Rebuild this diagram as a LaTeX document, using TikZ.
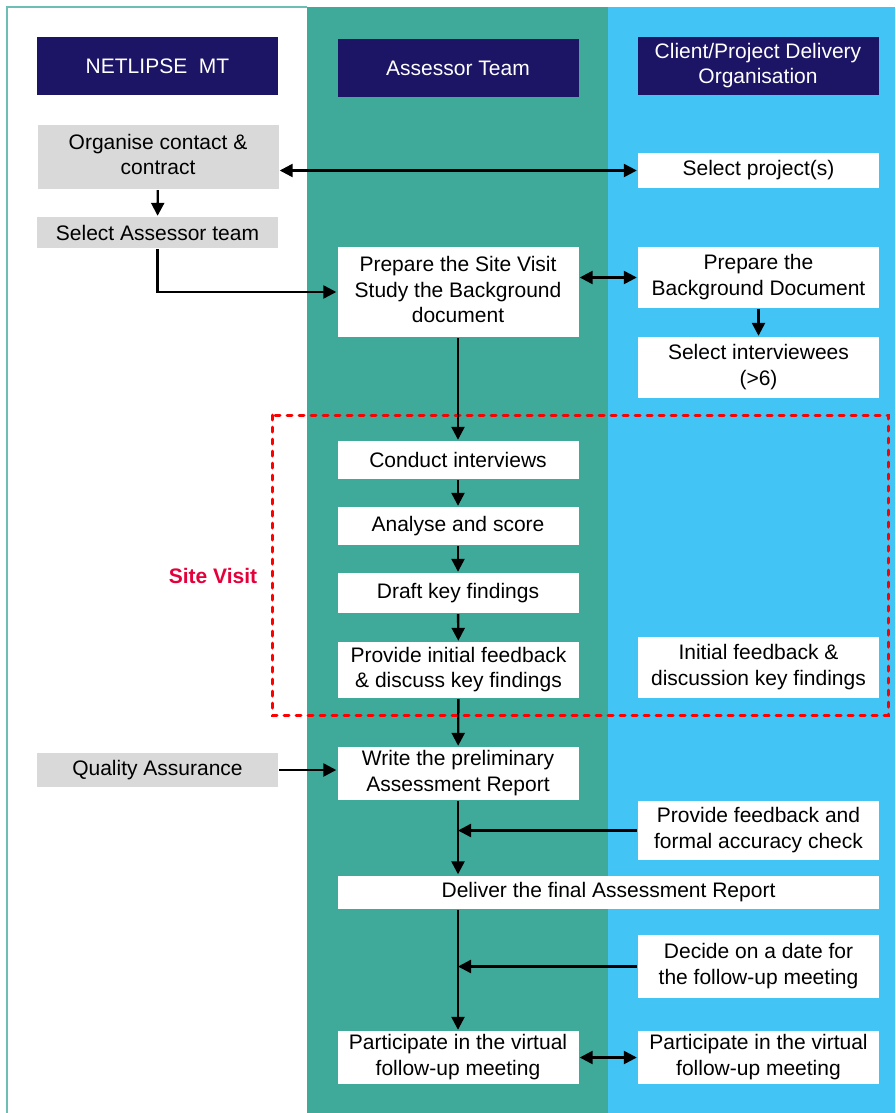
\documentclass[tikz,border=0pt]{standalone}
\usepackage{fontspec}
\setmainfont{Liberation Sans}
\usepackage{tikz}
\usetikzlibrary{arrows.meta}

\definecolor{navy}{HTML}{1C1464}
\definecolor{lanegreen}{HTML}{3FA99A}
\definecolor{laneblue}{HTML}{42C4F4}
\definecolor{boxgrey}{HTML}{D9D9D9}
\definecolor{sitered}{HTML}{E4003B}

\begin{document}
\begin{tikzpicture}[x=1pt, y=-1pt, line width=2.4pt,
  every node/.style={inner sep=0pt, font=\fontsize{21}{25.5}\selectfont},
  header/.style={fill=navy, text=white, minimum width=241pt, minimum height=58pt},
  greybox/.style={fill=boxgrey, minimum width=241pt},
  whitebox/.style={fill=white, minimum width=241pt},
  >={Triangle[length=13pt,width=13pt]}]

\useasboundingbox (0,0) rectangle (895,1113);

% lanes
\fill[white] (7,7) rectangle (307,1120);
\draw[lanegreen!75!white, line width=1.2pt] (7,1120) -- (7,7) -- (307,7);
\fill[lanegreen] (307,7) rectangle (608,1120);
\fill[laneblue] (608,7) rectangle (895,1120);

% site visit frame
\draw[red, line width=3pt, dash pattern=on 5pt off 7pt, line cap=round] (272,415) rectangle (888,715);
\node[text=sitered, font=\fontsize{21}{25.5}\selectfont\bfseries] (site visit) at (213,576) {Site Visit};

\node[header] (netlipse mt) at (157.5,66) {NETLIPSE\ \ MT};
\node[header] (assessor team) at (458,68) {Assessor Team};
\node[header] (client) at (758,66) {\begin{tabular}{c}
Client/Project Delivery \\
Organisation
\end{tabular}};

\node[greybox, minimum height=64pt] (organise contact) at (158,157) {\begin{tabular}{c}
Organise contact \& \\
contract
\end{tabular}};

\node[whitebox, minimum height=35pt] (select projects) at (758.5,170.5) {Select project(s)};

\node[greybox, minimum height=31pt] (select assessor team) at (157.5,232.5) {Select Assessor team};

\node[whitebox, minimum height=90pt] (prepare site visit) at (458,292) {\begin{tabular}{c}
Prepare the Site Visit \\
Study the Background \\
document
\end{tabular}};

\node[whitebox, minimum height=61pt] (prepare background) at (758.5,277.5) {\begin{tabular}{c}
Prepare the \\
Background Document
\end{tabular}};

\node[whitebox, minimum height=61pt] (select interviewees) at (758.5,367.5) {\begin{tabular}{c}
Select interviewees \\
(>6)
\end{tabular}};

\node[whitebox, minimum height=38pt] (conduct interviews) at (458,460) {Conduct interviews};
\node[whitebox, minimum height=38pt] (analyse and score) at (458,526) {Analyse and score};
\node[whitebox, minimum height=40pt] (draft key findings) at (458,593) {Draft key findings};

\node[whitebox, minimum height=56pt] (provide initial feedback) at (458.5,670) {\begin{tabular}{c}
Provide initial feedback \\
\& discuss key findings
\end{tabular}};

\node[whitebox, minimum height=61pt] (initial feedback) at (758.5,667.5) {\begin{tabular}{c}
Initial feedback \& \\
discussion key findings
\end{tabular}};

\node[greybox, minimum height=34pt] (quality assurance) at (157.5,770) {Quality Assurance};

\node[whitebox, minimum height=53pt] (preliminary report) at (458,773.5) {\begin{tabular}{c}
Write the preliminary \\
Assessment Report
\end{tabular}};

\node[whitebox, minimum height=59pt] (accuracy check) at (758.5,830.5) {\begin{tabular}{c}
Provide feedback and \\
formal accuracy check
\end{tabular}};

\node[fill=white, minimum width=541pt, minimum height=33pt] (final report) at (608.5,892) {Deliver the final Assessment Report};

\node[whitebox, minimum height=63pt] (decide date) at (758.5,966.5) {\begin{tabular}{c}
Decide on a date for \\
the follow-up meeting
\end{tabular}};

\node[whitebox, minimum height=53pt] (assessor meeting) at (458,1057.5) {\begin{tabular}{c}
Participate in the virtual \\
follow-up meeting
\end{tabular}};

\node[whitebox, minimum height=53pt] (client meeting) at (758.5,1057.5) {\begin{tabular}{c}
Participate in the virtual \\
follow-up meeting
\end{tabular}};

% connectors
\draw[<->] (select projects.west) -- (select projects.west -| organise contact.east);
\draw[->] (organise contact) -- (select assessor team);
\draw[->] (select assessor team.south) |- (prepare site visit.west);
\draw[<->] (prepare background.west -| prepare site visit.east) -- (prepare background.west);
\draw[->] (prepare background) -- (select interviewees);

\draw[->] (prepare site visit) -- (conduct interviews);
\draw[->] (conduct interviews) -- (analyse and score);
\draw[->] (analyse and score) -- (draft key findings);
\draw[->] (draft key findings) -- (provide initial feedback);
\draw[->] (provide initial feedback) -- (preliminary report);

\draw[->] (quality assurance.east) -- (quality assurance.east -| preliminary report.west);
\draw[->] (preliminary report.south) -- (preliminary report.south |- final report.north);
\draw[->] (accuracy check.west) -- (accuracy check.west -| preliminary report.south);

\draw[->] (final report.south -| assessor meeting) -- (assessor meeting.north);
\draw[->] (decide date.west) -- (decide date.west -| assessor meeting);
\draw[<->] (assessor meeting) -- (client meeting);
\end{tikzpicture}
\end{document}
